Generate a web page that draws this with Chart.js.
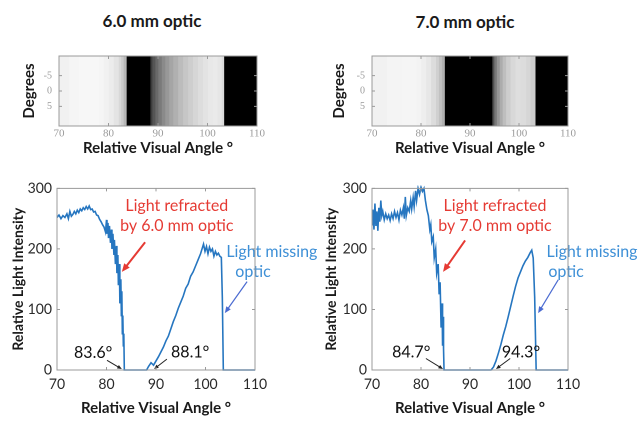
<!DOCTYPE html>
<html>
<head>
<meta charset="utf-8">
<script src="https://cdn.jsdelivr.net/npm/chart.js@4.4.1/dist/chart.umd.min.js"></script>
<style>
  body { margin: 0; background: #fff; width: 638px; height: 423px; position: relative; overflow: hidden; font-family: Lato, sans-serif; }
  .panel { position: absolute; }
  .title { position: absolute; font: bold 17px Lato; color: #1a1a1a; transform: translate(-50%, -50%); white-space: nowrap; }
</style>
</head>
<body>
<div class="title" style="left:152px;top:20px">6.0 mm optic</div>
<div class="title" style="left:465px;top:21px">7.0 mm optic</div>
<div class="panel" style="left:0;top:0;width:318px;height:165px"><canvas id="strip6"></canvas></div>
<div class="panel" style="left:318px;top:0;width:320px;height:165px"><canvas id="strip7"></canvas></div>
<div class="panel" style="left:0;top:175px;width:318px;height:248px"><canvas id="line6"></canvas></div>
<div class="panel" style="left:318px;top:175px;width:320px;height:248px"><canvas id="line7"></canvas></div>
<script>
// axis ticks
const angleTicks = [70, 80, 90, 100, 110];
const intensityTicks = [0, 100, 200, 300];
const degreeTicks = [-5, 0, 5];

// 6.0 mm optic intensity profile
const angles6 = [70.0, 70.4, 70.8, 71.2, 71.6, 72.0, 72.3, 72.6, 72.9, 73.2, 73.5, 73.8, 74.1, 74.4, 74.7, 75.0,
  75.3, 75.6, 75.9, 76.2, 76.5, 76.8, 77.1, 77.4, 77.7, 78.0, 78.3, 78.6, 78.9, 79.2, 79.5, 79.8,
  80.0, 80.1, 80.3, 80.4, 80.6, 80.8, 81.0, 81.1, 81.3, 81.5, 81.6, 81.8, 82.0, 82.1, 82.3, 82.4,
  82.6, 82.7, 82.9, 83.0, 83.1, 83.2, 83.3, 83.4, 83.5, 83.6, 88.1, 88.5, 89.0, 89.5, 90.0, 90.5,
  91.0, 91.5, 92.0, 92.5, 93.0, 93.5, 94.0, 94.5, 95.0, 95.5, 96.0, 96.5, 97.0, 97.5, 98.0, 98.5,
  99.0, 99.3, 99.6, 99.9, 100.2, 100.5, 100.8, 101.1, 101.4, 101.7, 102.0, 102.3, 102.6, 102.9, 103.2, 103.4,
  103.6, 110.0];
const intensity6 = [252, 256, 250, 255, 252, 258, 250, 262, 254, 257, 262, 258, 264, 260, 266, 263,
  268, 265, 270, 266, 271, 265, 266, 261, 262, 256, 255, 249, 245, 240, 236, 228,
  248, 225, 243, 218, 238, 210, 232, 200, 225, 190, 215, 175, 205, 160, 190, 140,
  175, 110, 150, 90, 130, 60, 90, 40, 60, 0, 0, 6, 12, 8, 15, 22,
  30, 38, 48, 56, 68, 80, 90, 102, 112, 122, 135, 142, 155, 162, 172, 182,
  192, 200, 208, 196, 204, 192, 203, 196, 200, 188, 196, 190, 193, 188, 186, 120,
  0, 0];

// 7.0 mm optic intensity profile
const angles7 = [70.0, 70.2, 70.4, 70.6, 70.8, 71.0, 71.2, 71.4, 71.6, 71.8, 72.0, 72.2, 72.5, 72.8, 73.1, 73.4,
  73.7, 74.0, 74.3, 74.6, 74.9, 75.2, 75.5, 75.8, 76.1, 76.4, 76.6, 76.8, 77.0, 77.3, 77.6, 77.9,
  78.1, 78.4, 78.6, 78.9, 79.1, 79.4, 79.7, 80.0, 80.3, 80.6, 80.9, 81.2, 81.5, 81.8, 82.0, 82.2,
  82.5, 82.7, 83.0, 83.2, 83.5, 83.7, 83.9, 84.1, 84.3, 84.4, 84.5, 84.6, 84.7, 94.3, 94.8, 95.3,
  95.8, 96.3, 96.8, 97.3, 97.8, 98.3, 98.8, 99.3, 99.8, 100.3, 100.8, 101.3, 101.8, 102.3, 102.6, 102.9,
  103.2, 103.5, 110.0];
const intensity7 = [240, 265, 232, 275, 238, 262, 230, 268, 245, 280, 255, 262, 248, 258, 250, 256,
  247, 258, 250, 262, 252, 260, 248, 264, 256, 268, 250, 286, 255, 268, 262, 280,
  266, 285, 270, 296, 280, 300, 290, 302, 295, 300, 280, 265, 255, 232, 240, 212,
  220, 185, 200, 160, 175, 125, 145, 70, 110, 40, 88, 35, 0, 0, 5, 15,
  28, 42, 58, 72, 88, 105, 122, 138, 152, 162, 172, 180, 186, 194, 198, 185,
  120, 0, 0];

// grey strips: band edges (deg) and grey level of each band
const stripEdges6 = [70, 72, 74, 76, 78, 79, 80, 81, 82, 82.5, 83, 83.6, 88.4, 88.8, 89.4, 90,
  90.7, 91.4, 92.2, 93, 94, 95, 96, 97, 98, 99, 100, 101, 102, 102.8, 103.3, 110];
const stripGray6 = [241, 245, 247, 247, 245, 241, 236, 228, 216, 203, 183, 0, 60, 85, 105, 122,
  138, 152, 165, 176, 188, 198, 206, 214, 221, 227, 232, 234, 230, 220, 0];
const stripEdges7 = [70, 73, 76, 79, 80, 81, 82, 83, 83.6, 84.2, 84.8, 94.5, 94.9, 95.4, 96, 96.6,
  97.3, 98.2, 99.2, 100.3, 101.4, 102.3, 103.3, 110];
const stripGray7 = [241, 244, 245, 243, 238, 231, 220, 208, 193, 176, 0, 80, 120, 150, 172, 190,
  205, 216, 222, 220, 214, 205, 0];

const RED = "#e53a33";
const BLUE_TEXT = "#3d8fd6";
const LINE_BLUE = "#2676c0";

Chart.defaults.font.family = "Lato";
Chart.defaults.animation = false;
Chart.defaults.devicePixelRatio = 2;

// MATLAB-like box with inward tick marks
function boxPlugin(yId) {
  return {
    id: "box",
    afterDraw(chart) {
      const { ctx, chartArea: a } = chart;
      const x = chart.scales.x;
      const y = chart.scales[yId];
      ctx.save();
      ctx.strokeStyle = "#9a9a9a";
      ctx.lineWidth = 1;
      ctx.strokeRect(a.left, a.top, a.right - a.left, a.bottom - a.top);
      ctx.beginPath();
      x.ticks.forEach((t) => {
        const px = x.getPixelForValue(t.value);
        ctx.moveTo(px, a.bottom); ctx.lineTo(px, a.bottom - 3);
        ctx.moveTo(px, a.top); ctx.lineTo(px, a.top + 3);
      });
      y.ticks.forEach((t) => {
        const py = y.getPixelForValue(t.value);
        ctx.moveTo(a.left, py); ctx.lineTo(a.left + 3, py);
        ctx.moveTo(a.right, py); ctx.lineTo(a.right - 3, py);
      });
      ctx.stroke();
      ctx.restore();
    },
  };
}

function drawArrow(ctx, x0, y0, x1, y1, color, width, head) {
  const ang = Math.atan2(y1 - y0, x1 - x0);
  ctx.strokeStyle = color;
  ctx.fillStyle = color;
  ctx.lineWidth = width;
  ctx.beginPath();
  ctx.moveTo(x0, y0);
  ctx.lineTo(x1 - Math.cos(ang) * head * 0.8, y1 - Math.sin(ang) * head * 0.8);
  ctx.stroke();
  ctx.beginPath();
  ctx.moveTo(x1, y1);
  ctx.lineTo(x1 - head * Math.cos(ang - 0.4), y1 - head * Math.sin(ang - 0.4));
  ctx.lineTo(x1 - head * Math.cos(ang + 0.4), y1 - head * Math.sin(ang + 0.4));
  ctx.closePath();
  ctx.fill();
}

// text and arrows placed in data coordinates
function notesPlugin(notes) {
  return {
    id: "notes",
    afterDatasetsDraw(chart) {
      const { ctx, scales: { x, y } } = chart;
      ctx.save();
      notes.arrows.forEach((a) => {
        drawArrow(ctx, x.getPixelForValue(a.from[0]), y.getPixelForValue(a.from[1]),
          x.getPixelForValue(a.to[0]), y.getPixelForValue(a.to[1]), a.color, a.width, a.head);
      });
      ctx.textAlign = "center";
      ctx.textBaseline = "middle";
      notes.labels.forEach((l) => {
        ctx.fillStyle = l.color;
        ctx.font = l.font || "16px Lato";
        ctx.fillText(l.text, x.getPixelForValue(l.at[0]), y.getPixelForValue(l.at[1]));
      });
      ctx.restore();
    },
  };
}

function makeStrip(id, edges, grays, plotLeft, padRight, degTitlePad) {
  const datasets = grays.map((g, i) => ({
    data: [[edges[i], edges[i + 1]]],
    backgroundColor: `rgb(${g},${g},${g})`,
    borderWidth: 0,
    grouped: false,
    barPercentage: 1,
    categoryPercentage: 1,
  }));
  return new Chart(document.getElementById(id), {
    type: "bar",
    data: { labels: ["strip"], datasets },
    plugins: [boxPlugin("deg")],
    options: {
      indexAxis: "y",
      responsive: true,
      maintainAspectRatio: false,
      layout: { padding: { top: 56, right: padRight, left: 0, bottom: 0 } },
      plugins: { legend: { display: false }, tooltip: { enabled: false } },
      scales: {
        x: {
          type: "linear",
          min: 70,
          max: 110,
          afterBuildTicks: (s) => { s.ticks = angleTicks.map((v) => ({ value: v })); },
          afterFit: (s) => { s.height = 39; },
          grid: { display: false, drawTicks: false },
          border: { display: false },
          ticks: { color: "#9a9a9a", padding: 1, font: { family: "Liberation Serif", size: 11 } },
          title: { display: true, text: "Relative Visual Angle °", color: "#1a1a1a", font: { size: 15, weight: "bold" }, padding: { top: 0, bottom: 8 } },
        },
        y: { display: false },
        deg: {
          type: "linear",
          position: "left",
          min: -7.6,
          max: 7.6,
          reverse: true,
          afterBuildTicks: (s) => { s.ticks = degreeTicks.map((v) => ({ value: v })); },
          afterFit: (s) => { s.width = plotLeft; },
          grid: { display: false, drawTicks: false },
          border: { display: false },
          ticks: { color: "#9a9a9a", padding: 7, font: { family: "Liberation Serif", size: 10 } },
          title: { display: true, text: "Degrees", color: "#1a1a1a", font: { size: 15, weight: "bold" }, padding: { top: degTitlePad, bottom: 0 } },
        },
      },
    },
  });
}

function makeLine(id, angles, values, plotLeft, padRight, yTitlePad, notes) {
  return new Chart(document.getElementById(id), {
    type: "scatter",
    data: {
      datasets: [{
        data: angles.map((a, i) => ({ x: a, y: values[i] })),
        showLine: true,
        borderColor: LINE_BLUE,
        borderWidth: 1.6,
        pointRadius: 0,
        tension: 0,
        clip: 3,
      }],
    },
    plugins: [boxPlugin("y"), notesPlugin(notes)],
    options: {
      responsive: true,
      maintainAspectRatio: false,
      layout: { padding: { top: 10, right: padRight, left: 0, bottom: 0 } },
      plugins: { legend: { display: false }, tooltip: { enabled: false } },
      scales: {
        x: {
          type: "linear",
          min: 70,
          max: 110,
          afterBuildTicks: (s) => { s.ticks = angleTicks.map((v) => ({ value: v })); },
          afterFit: (s) => { s.height = 53; },
          grid: { display: false, drawTicks: false },
          border: { display: false },
          ticks: { color: "#2a2a2a", padding: 6, font: { size: 14 } },
          title: { display: true, text: "Relative Visual Angle °", color: "#1a1a1a", font: { size: 15, weight: "bold" }, padding: { top: 0, bottom: 6 } },
        },
        y: {
          type: "linear",
          min: 0,
          max: 300,
          afterBuildTicks: (s) => { s.ticks = intensityTicks.map((v) => ({ value: v })); },
          afterFit: (s) => { s.width = plotLeft; },
          grid: { display: false, drawTicks: false },
          border: { display: false },
          ticks: { color: "#2a2a2a", padding: 5, font: { size: 14 } },
          title: { display: true, text: "Relative Light Intensity", color: "#1a1a1a", font: { size: 14, weight: "bold" }, padding: { top: yTitlePad, bottom: 0 } },
        },
      },
    },
  });
}

const notes6 = {
  labels: [
    { text: "Light refracted", at: [94.2, 271], color: RED },
    { text: "by 6.0 mm optic", at: [94.2, 238], color: RED },
    { text: "Light missing", at: [113.4, 195], color: BLUE_TEXT },
    { text: "optic", at: [109.6, 162], color: BLUE_TEXT },
    { text: "83.6°", at: [77.3, 28], color: "#111" },
    { text: "88.1°", at: [96.9, 29], color: "#111" },
  ],
  arrows: [
    { from: [87.8, 211], to: [83.1, 162], color: RED, width: 2, head: 9 },
    { from: [108.4, 146], to: [103.9, 94], color: "#4b6bd1", width: 1.2, head: 7 },
    { from: [80.1, 16], to: [83.1, 1.6], color: "#222", width: 1, head: 5 },
    { from: [92.2, 18], to: [89.6, 1.6], color: "#222", width: 1, head: 5 },
  ],
};

const notes7 = {
  labels: [
    { text: "Light refracted", at: [95.1, 271], color: RED },
    { text: "by 7.0 mm optic", at: [95.1, 238], color: RED },
    { text: "Light missing", at: [114.9, 195], color: BLUE_TEXT },
    { text: "optic", at: [109.6, 162], color: BLUE_TEXT },
    { text: "84.7°", at: [78.0, 29], color: "#111" },
    { text: "94.3°", at: [100.4, 29], color: "#111" },
  ],
  arrows: [
    { from: [89.0, 214], to: [84.5, 162], color: RED, width: 2, head: 9 },
    { from: [108.0, 149], to: [103.9, 94], color: "#4b6bd1", width: 1.2, head: 7 },
    { from: [81.0, 19], to: [84.5, 1.6], color: "#222", width: 1, head: 5 },
    { from: [98.2, 19], to: [95.3, 1.6], color: "#222", width: 1, head: 5 },
  ],
};

makeStrip("strip6", stripEdges6, stripGray6, 59, 61, 20);
makeStrip("strip7", stripEdges7, stripGray7, 54, 70, 12);
makeLine("line6", angles6, intensity6, 57, 63, 10, notes6);
makeLine("line7", angles7, intensity7, 54, 70, 5, notes7);
</script>
</body>
</html>
